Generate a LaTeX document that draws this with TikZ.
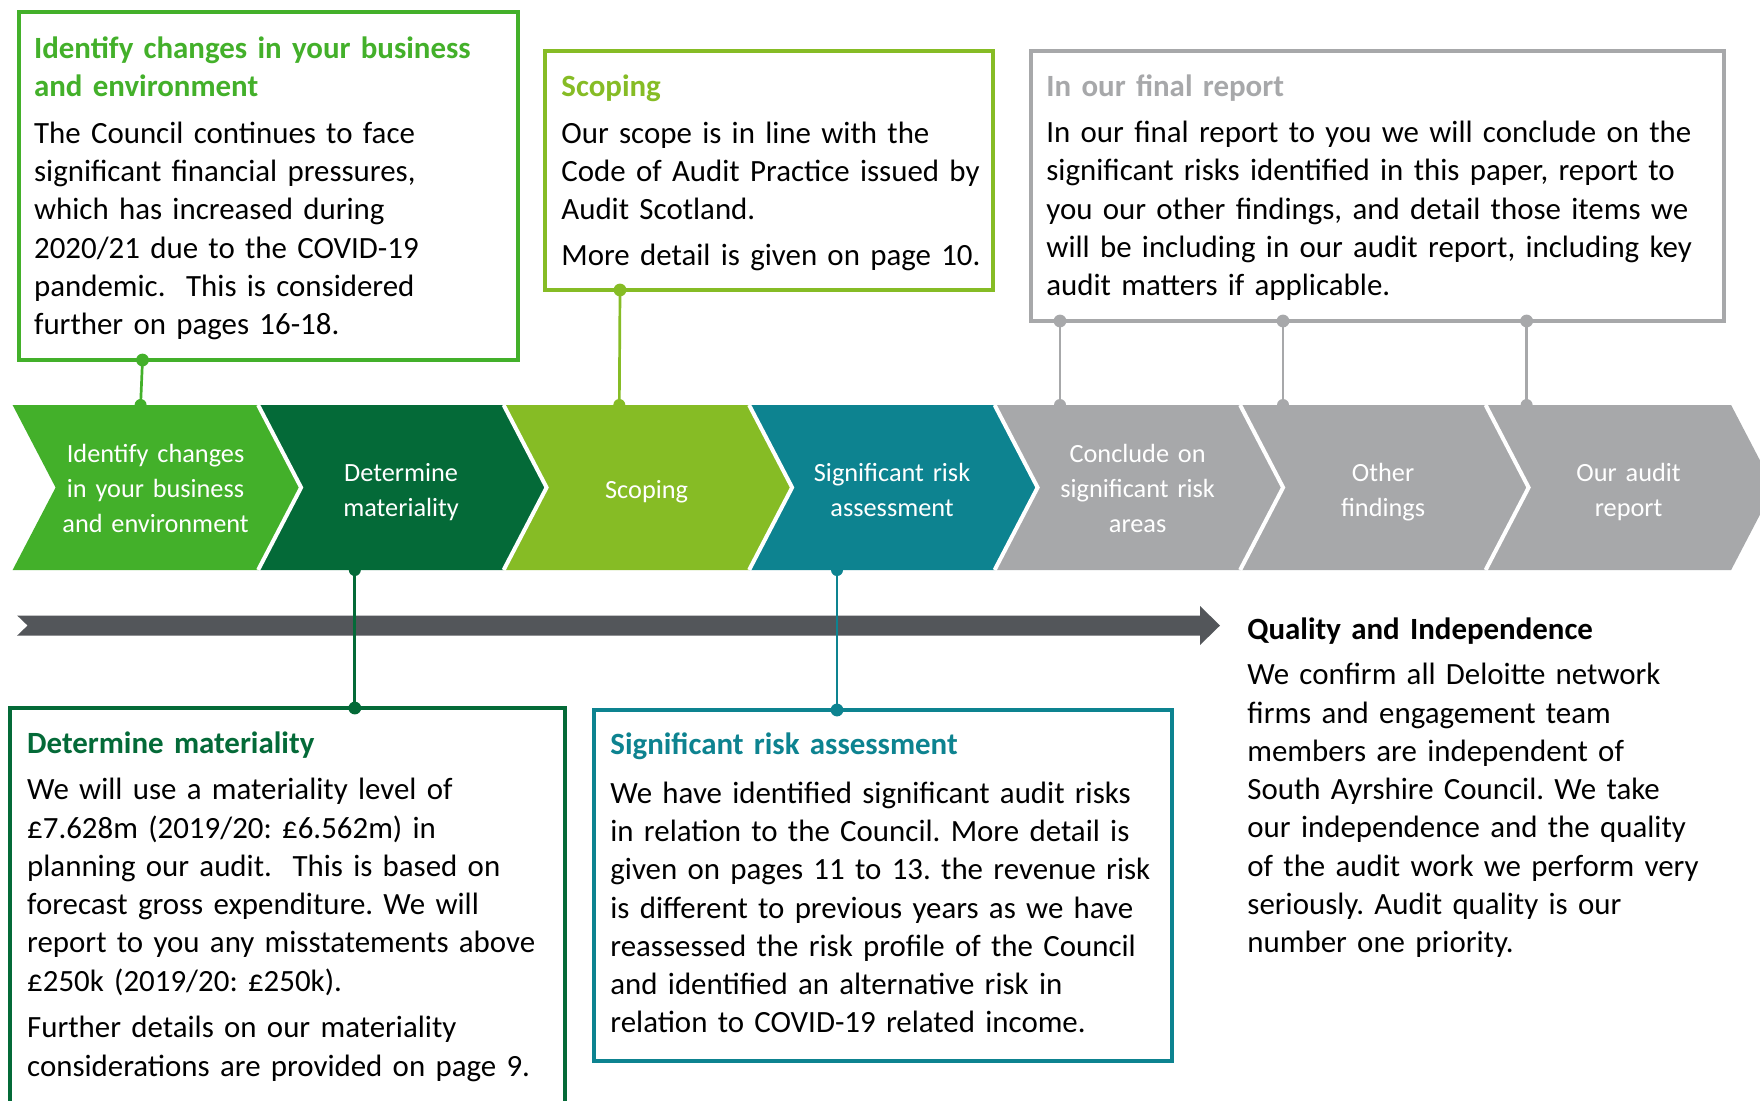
\documentclass[tikz,border=0pt]{standalone}
\usepackage{fontspec}
\setmainfont{Carlito}
\frenchspacing
\hyphenpenalty=10000
\definecolor{cgreen}{HTML}{43B02A}
\definecolor{cdark}{HTML}{046A38}
\definecolor{clime}{HTML}{86BC25}
\definecolor{cteal}{HTML}{0D8390}
\definecolor{cgrey}{HTML}{A7A8AA}
\definecolor{cbar}{HTML}{53565A}
\newcommand{\bodyfnt}{\fontsize{15.45}{19.15}\selectfont}
\newcommand{\chevfnt}{\fontsize{13.15}{17.5}\selectfont}
\tikzset{
  infobox/.style={draw=#1, line width=2pt, fill=white},
  titletext/.style={anchor=base west, inner sep=0pt, yshift=-0.7pt, text width=400pt, align=left, font=\bodyfnt\bfseries, text=#1},
  bodytext/.style={anchor=base west, inner sep=0pt, yshift=-0.7pt, text width=400pt, align=left, font=\bodyfnt},
  chevlabel/.style={anchor=base, inner sep=0pt, yshift=-0.5pt, text width=115pt, align=center, font=\chevfnt, text=white},
  conn/.style={draw=#1, line width=1.35pt},
}
\begin{document}
\begin{tikzpicture}[x=0.5pt,y=-0.5pt]
\clip (0,0) rectangle (1760,1100);
\fill[white] (0,0) rectangle (1760,1100);

% chevrons
\foreach \i/\c in {0/cgreen,1/cdark,2/clime,3/cteal,4/cgrey,5/cgrey,6/cgrey}{
  \fill[\c] ({12.6+245.5*\i},405) -- ++(245.5,0) -- ++(43,82.5) -- ++(-43,82.5) -- ++(-245.5,0) -- ++(43,-82.5) -- cycle;
}
\foreach \i in {1,...,6}{
  \draw[white,line width=2pt] ({12.6+245.5*\i},405) -- ++(43,82.5) -- ++(-43,82.5);
}

% chevron labels
\node[chevlabel] (ch1) at (155.6,461.7) {Identify changes\\in your business\\and environment};
\node[chevlabel] (ch2) at (401.1,480) {Determine\\materiality};
\node[chevlabel] (ch3) at (646.6,497) {Scoping};
\node[chevlabel] (ch4) at (892.1,480) {Significant risk\\assessment};
\node[chevlabel] (ch5) at (1137.6,461.7) {Conclude on\\significant risk\\areas};
\node[chevlabel] (ch6) at (1383.1,480) {Other\\findings};
\node[chevlabel] (ch7) at (1628.6,480) {Our audit\\report};

% timeline bar
\fill[cbar] (17.2,615.5) -- (1200,615.5) -- (1200,606) -- (1220,625.5) -- (1200,645) -- (1200,635.5) -- (17.2,635.5) -- (27.6,625.5) -- cycle;

% boxes
\draw[infobox=cgreen] (18.5,12) rectangle (518,360);
\draw[infobox=clime] (545,51) rectangle (993,290);
\draw[infobox=cgrey] (1030.5,50.5) rectangle (1724,321);
\draw[infobox=cdark] (10,708) rectangle (564.5,1130);
\draw[infobox=cteal] (594,710) rectangle (1172,1061);

% connector end points
\coordinate (b1s) at (142.5,360);  \coordinate (c1n) at (140.6,405);
\coordinate (b2s) at (620,290);    \coordinate (c3n) at (619.3,405);
\coordinate (b3a) at (1060,321);   \coordinate (c5n) at (1060,405);
\coordinate (b3b) at (1283,321);   \coordinate (c6n) at (1283,405);
\coordinate (b3c) at (1526.6,321); \coordinate (c7n) at (1526.6,405);
\coordinate (c2s) at (354.8,570);  \coordinate (b4n) at (354.8,708);
\coordinate (c4s) at (837,570);    \coordinate (b5n) at (837,710);

\draw[conn=cgreen] (b1s) -- (c1n);
\draw[conn=clime] (b2s) -- (c3n);
\draw[conn=cgrey] (b3a) -- (c5n);
\draw[conn=cgrey] (b3b) -- (c6n);
\draw[conn=cgrey] (b3c) -- (c7n);
\draw[conn=cdark] (c2s) -- (b4n);
\draw[conn=cteal] (c4s) -- (b5n);

\fill[cgreen] (b1s) circle[radius=3.2pt] (c1n) circle[radius=3pt];
\fill[clime] (b2s) circle[radius=3.2pt] (c3n) circle[radius=3pt];
\fill[cgrey] (b3a) circle[radius=3.2pt] (c5n) circle[radius=3pt];
\fill[cgrey] (b3b) circle[radius=3.2pt] (c6n) circle[radius=3pt];
\fill[cgrey] (b3c) circle[radius=3.2pt] (c7n) circle[radius=3pt];
\fill[cdark] (b4n) circle[radius=3.2pt] (c2s) circle[radius=3pt];
\fill[cteal] (b5n) circle[radius=3.2pt] (c4s) circle[radius=3pt];

% box texts
\node[titletext=cgreen] (t1) at (33.7,56.7) {Identify changes in your business\\and environment};
\node[bodytext] (x1) at (33.7,141.7) {The Council continues to face\\significant financial pressures,\\which has increased during\\2020/21 due to the COVID-19\\pandemic.\ \ This is considered\\further on pages 16-18.};

\node[titletext=clime] (t2) at (561,95) {Scoping};
\node[bodytext] (x2) at (561,141.7) {Our scope is in line with the\\Code of Audit Practice issued by\\Audit Scotland.\\[3.7pt]More detail is given on page 10.};

\node[titletext=cgrey] (t3) at (1046,95) {In our final report};
\node[bodytext] (x3) at (1046,141) {In our final report to you we will conclude on the\\significant risks identified in this paper, report to\\you our other findings, and detail those items we\\will be including in our audit report, including key\\audit matters if applicable.};

\node[titletext=cdark] (t4) at (26.8,751.7) {Determine materiality};
\node[bodytext] (x4) at (26.8,798.3) {We will use a materiality level of\\£7.628m (2019/20: £6.562m) in\\planning our audit.\ \ This is based on\\forecast gross expenditure. We will\\report to you any misstatements above\\£250k (2019/20: £250k).\\[4.2pt]Further details on our materiality\\considerations are provided on page 9.};

\node[titletext=cteal] (t5) at (610,753.3) {Significant risk assessment};
\node[bodytext] (x5) at (610,801.7) {We have identified significant audit risks\\in relation to the Council. More detail is\\given on pages 11 to 13. the revenue risk\\is different to previous years as we have\\reassessed the risk profile of the Council\\and identified an alternative risk in\\relation to COVID-19 related income.};

\node[titletext=black] (t6) at (1247,638.3) {Quality and Independence};
\node[bodytext] (x6) at (1247,683.3) {We confirm all Deloitte network\\firms and engagement team\\members are independent of\\South Ayrshire Council. We take\\our independence and the quality\\of the audit work we perform very\\seriously. Audit quality is our\\number one priority.};
\end{tikzpicture}
\end{document}
